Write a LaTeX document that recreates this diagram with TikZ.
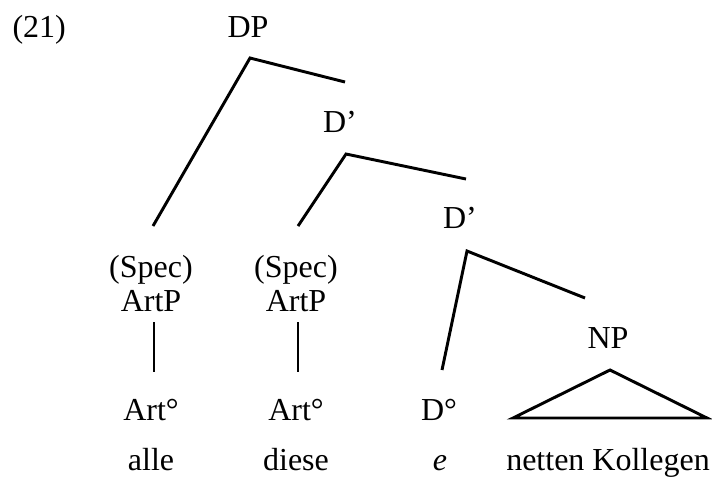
\documentclass[tikz,border=0pt]{standalone}
\usepackage{fontspec}
\setmainfont{Liberation Serif}
\begin{document}
\begin{tikzpicture}[x=0.375pt,y=-0.375pt,
  lbl/.style={inner sep=0pt,anchor=base,font=\fontsize{12}{14}\selectfont},
  branch/.style={line width=1.1pt,line join=miter}]
\useasboundingbox (0,0) rectangle (712,477);
% example number and labels
\node[lbl,anchor=base west] (num) at (12,37) {(21)};
\node[lbl] (dp) at (248,37) {DP};
\node[lbl] (dbar1) at (340,132) {D’};
\node[lbl] (dbar2) at (460,228) {D’};
\node[lbl] (spec1) at (151,277) {(Spec)};
\node[lbl] (artp1) at (151,311) {ArtP};
\node[lbl] (spec2) at (296,277) {(Spec)};
\node[lbl] (artp2) at (296,311) {ArtP};
\node[lbl] (np) at (608,348) {NP};
\node[lbl] (art1) at (151,420) {Art°};
\node[lbl] (art2) at (296,420) {Art°};
\node[lbl] (dzero) at (439,420) {D°};
\node[lbl] (alle) at (151,470) {alle};
\node[lbl] (diese) at (296,470) {diese};
\node[lbl] (empty) at (440,470) {\textit{e}};
\node[lbl] (kollegen) at (608,470) {netten Kollegen};
% branch points
\coordinate (dpTop) at (250,58);
\coordinate (dpL) at (153,226);
\coordinate (dpR) at (345,82);
\coordinate (dbOneTop) at (346,154);
\coordinate (dbOneL) at (298,226);
\coordinate (dbOneR) at (466,179);
\coordinate (dbTwoTop) at (467,251);
\coordinate (dbTwoL) at (442,370);
\coordinate (dbTwoR) at (585,298);
\coordinate (artOneTop) at (154,322);
\coordinate (artOneBot) at (154,372);
\coordinate (artTwoTop) at (298,322);
\coordinate (artTwoBot) at (298,372);
\coordinate (triTop) at (610,370);
\coordinate (triL) at (513,418);
\coordinate (triR) at (707,418);
% tree
\draw[branch] (dpL) -- (dpTop) -- (dpR);
\draw[branch] (dbOneL) -- (dbOneTop) -- (dbOneR);
\draw[branch] (dbTwoL) -- (dbTwoTop) -- (dbTwoR);
\draw[branch] (artOneTop) -- (artOneBot);
\draw[branch] (artTwoTop) -- (artTwoBot);
\draw[branch] (triTop) -- (triL) -- (triR) -- cycle;
\end{tikzpicture}
\end{document}
